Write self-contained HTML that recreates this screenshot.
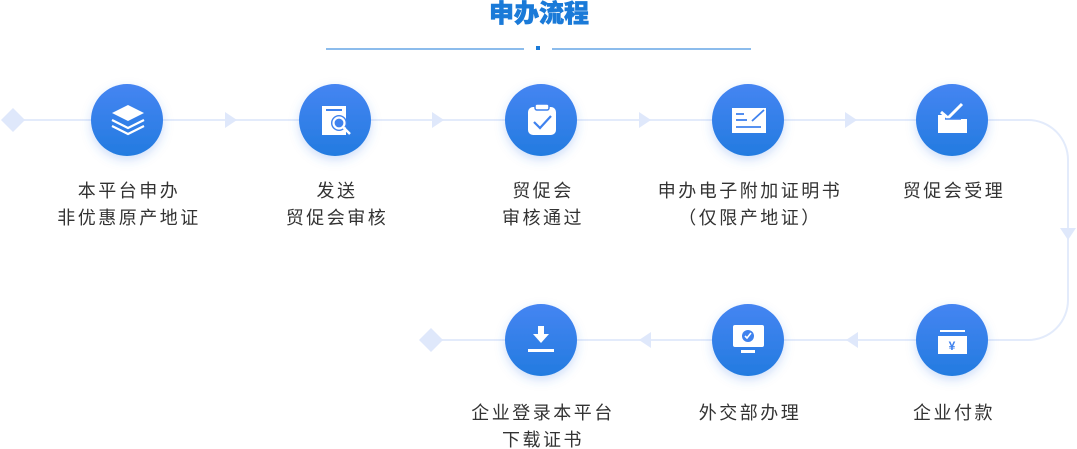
<!DOCTYPE html>
<html><head><meta charset="utf-8"><style>
html,body{margin:0;padding:0;background:#fff;}
svg{display:block;}
text{font-family:"Liberation Sans","Noto Sans CJK SC",sans-serif;}
</style></head><body>
<svg width="1077" height="449" viewBox="0 0 1077 449">
<defs>
<linearGradient id="g" x1="0" y1="0" x2="0" y2="1"><stop offset="0" stop-color="#4585f2"/><stop offset="1" stop-color="#237be0"/></linearGradient>
<filter id="sh" x="-50%" y="-50%" width="200%" height="200%"><feDropShadow dx="0" dy="4" stdDeviation="5" flood-color="#3a7be8" flood-opacity="0.25"/></filter>
</defs>
<text x="539" y="22" text-anchor="middle" font-size="25" font-weight="900" fill="#1a7ad8" stroke="#1a7ad8" stroke-width="0.6">申办流程</text>
<line x1="326" y1="49" x2="524" y2="49" stroke="#1a7ad8" stroke-width="1"/>
<line x1="552" y1="49" x2="751" y2="49" stroke="#1a7ad8" stroke-width="1"/>
<rect x="536" y="46" width="4" height="4" fill="#1a7ad8"/>
<g stroke="#e3ebfb" stroke-width="2" fill="none">
<line x1="13" y1="120" x2="952" y2="120"/>
<path d="M952 120 H1028 A40 40 0 0 1 1068 160 V300 A40 40 0 0 1 1028 340 H431"/>
</g>
<g fill="#dfe8fb">
<polygon points="13,108 25,120 13,132 1,120"/>
<polygon points="431,328 443,340 431,352 419,340"/>
<polygon points="225,112 237,120 225,128"/>
<polygon points="432,112 444,120 432,128"/>
<polygon points="639,112 651,120 639,128"/>
<polygon points="845,112 857,120 845,128"/>
<polygon points="1060,228 1076,228 1068,240"/>
<polygon points="858,332 846,340 858,348"/>
<polygon points="651,332 639,340 651,348"/>
</g>
<g filter="url(#sh)" fill="url(#g)">
<circle cx="127" cy="120" r="36"/><circle cx="335" cy="120" r="36"/><circle cx="541" cy="120" r="36"/><circle cx="748" cy="120" r="36"/><circle cx="952" cy="120" r="36"/>
<circle cx="952" cy="340" r="36"/><circle cx="748" cy="340" r="36"/><circle cx="541" cy="340" r="36"/>
</g>
<g fill="#fff"><polygon points="112,113 128,105 144,113 128,121"/></g>
<g fill="none" stroke="#fff" stroke-width="2.2">
<polyline points="112,120 128,128 144,120"/><polyline points="112,126 128,134 144,126"/>
</g>
<rect x="322" y="106" width="24" height="29" fill="#fff"/>
<rect x="326" y="109" width="16" height="2" fill="#3f82ee"/>
<circle cx="339" cy="123" r="8" fill="#3f82ee"/>
<circle cx="339" cy="123" r="5.5" fill="#3f82ee" stroke="#fff" stroke-width="2.2"/>
<line x1="343" y1="127" x2="350" y2="134" stroke="#fff" stroke-width="2.5"/>
<rect x="528" y="107" width="28" height="28" rx="5" fill="#fff"/>
<rect x="535" y="104" width="14" height="6" rx="2" fill="#fff" stroke="#3f82ee" stroke-width="1.5"/>
<polyline points="534,122 540,128 551,116" fill="none" stroke="#3f82ee" stroke-width="2.2"/>
<rect x="732" y="108" width="34" height="25" fill="#fff"/>
<g stroke="#3f82ee" stroke-width="1.8"><line x1="736" y1="114" x2="744" y2="114"/><line x1="736" y1="120" x2="747" y2="120"/><line x1="736" y1="127" x2="761" y2="127"/><line x1="752" y1="121" x2="764" y2="110"/></g>
<rect x="938" y="119" width="29" height="14" fill="#fff"/>
<rect x="938" y="115" width="7" height="6" fill="#fff"/>
<polyline points="941,112 948,118 962,104" fill="none" stroke="#fff" stroke-width="3"/>
<polyline points="945,119 961,119" stroke="#3f82ee" stroke-width="1.5"/>
<rect x="938" y="336" width="29" height="18" fill="#fff"/>
<rect x="940" y="330" width="25" height="2" fill="#fff"/>
<text x="952" y="350" text-anchor="middle" font-size="12" font-weight="bold" fill="#3f82ee">¥</text>
<rect x="733" y="325" width="31" height="22" rx="2" fill="#fff"/>
<circle cx="748" cy="336" r="6" fill="#3f82ee"/>
<polyline points="745,336 747,338 751,333" fill="none" stroke="#fff" stroke-width="1.6"/>
<rect x="741" y="350" width="14" height="3" fill="#fff"/>
<rect x="538" y="326" width="6" height="10" fill="#fff"/>
<polygon points="533,334 549,334 541,343" fill="#fff"/>
<rect x="528" y="349" width="26" height="3" fill="#fff"/>
<g font-size="18" fill="#333" text-anchor="middle" letter-spacing="2.5">
<text x="129" y="197">本平台申办</text><text x="129" y="224">非优惠原产地证</text>
<text x="337" y="197">发送</text><text x="337" y="224">贸促会审核</text>
<text x="543" y="197">贸促会</text><text x="543" y="224">审核通过</text>
<text x="750" y="197">申办电子附加证明书</text><text x="750" y="224">（仅限产地证）</text>
<text x="954" y="197">贸促会受理</text>
<text x="954" y="419">企业付款</text>
<text x="750" y="419">外交部办理</text>
<text x="543" y="419">企业登录本平台</text><text x="543" y="446">下载证书</text>
</g>
</svg>
</body></html>
